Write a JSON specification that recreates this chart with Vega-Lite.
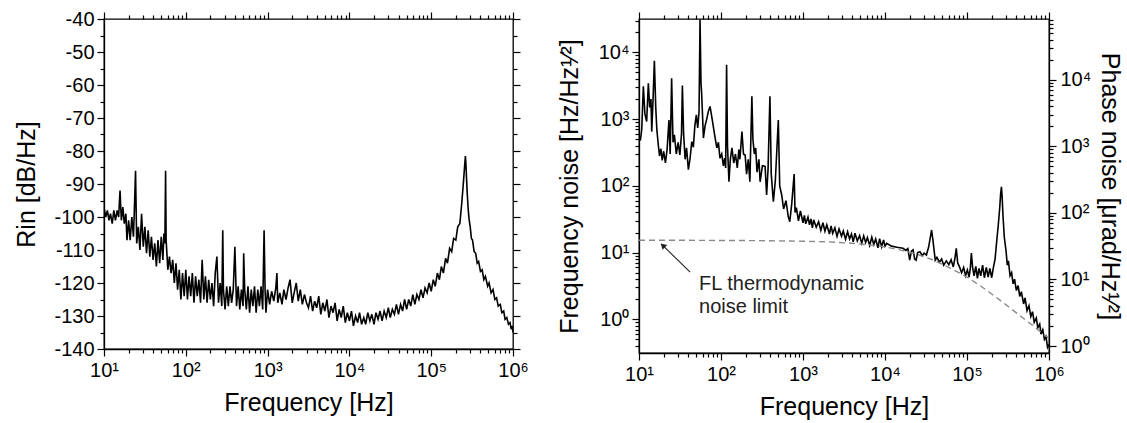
{
  "$schema": "https://vega.github.io/schema/vega-lite/v6.json",
  "padding": {"left": 14, "top": 8, "right": 4, "bottom": 4},
  "config": {
    "font": "Liberation Sans",
    "view": {"stroke": "black", "strokeWidth": 1.3},
    "axis": {"grid": false, "domainColor": "black", "tickColor": "black", "labelColor": "black", "titleColor": "black", "labelFontSize": 20, "titleFontSize": 25, "titleFontWeight": "normal", "tickWidth": 1.2, "domainWidth": 1.3, "labelFont": "Liberation Sans", "titleFont": "Liberation Sans", "labelFlush": false, "labelOverlap": false, "labelBound": false},
    "concat": {"spacing": 27}
  },
  "datasets": {
    "rin": [
      {"f":10,"db":-97},{"f":10.5,"db":-100},{"f":11,"db":-98},{"f":11.5,"db":-101},{"f":12,"db":-99},{"f":12.6,"db":-102},{"f":13.2,"db":-98},{"f":13.8,"db":-101},{"f":14.5,"db":-98},{"f":15.1,"db":-100},{"f":15.7,"db":-92},{"f":16.3,"db":-101},{"f":17,"db":-97},{"f":17.7,"db":-102},{"f":18.5,"db":-99},{"f":19.1,"db":-107},{"f":20,"db":-101},{"f":20.9,"db":-107},{"f":21.9,"db":-100},{"f":22.9,"db":-106},{"f":23.5,"db":-98},{"f":24.3,"db":-86},{"f":25.1,"db":-108},{"f":26.3,"db":-103},{"f":27.5,"db":-110},{"f":28.8,"db":-99},{"f":30.2,"db":-109},{"f":31.6,"db":-103},{"f":33.1,"db":-111},{"f":34.7,"db":-104},{"f":36.3,"db":-112},{"f":38,"db":-106},{"f":39.8,"db":-113},{"f":41.7,"db":-108},{"f":43.7,"db":-115},{"f":45.7,"db":-107},{"f":47.9,"db":-114},{"f":50.1,"db":-106},{"f":52.5,"db":-113},{"f":54,"db":-105},{"f":55.5,"db":-108},{"f":56.6,"db":-86},{"f":57.5,"db":-107},{"f":60.3,"db":-116},{"f":63.1,"db":-112},{"f":66.1,"db":-117},{"f":69.2,"db":-113},{"f":72.4,"db":-120},{"f":75.9,"db":-114},{"f":79.4,"db":-122},{"f":83.2,"db":-116},{"f":87.1,"db":-125},{"f":91.2,"db":-117},{"f":95.5,"db":-124},{"f":100,"db":-116},{"f":104.7,"db":-125},{"f":109.6,"db":-118},{"f":114.8,"db":-124},{"f":120.2,"db":-117},{"f":125.9,"db":-126},{"f":131.8,"db":-118},{"f":138,"db":-124},{"f":144.5,"db":-119},{"f":151.4,"db":-126},{"f":158.5,"db":-113},{"f":166,"db":-125},{"f":173.8,"db":-118},{"f":182,"db":-126},{"f":190.5,"db":-119},{"f":199.5,"db":-125},{"f":208.9,"db":-120},{"f":218.8,"db":-127},{"f":229.1,"db":-117},{"f":239.9,"db":-112},{"f":251.2,"db":-126},{"f":263,"db":-120},{"f":275.4,"db":-127},{"f":283,"db":-104},{"f":288.4,"db":-122},{"f":302,"db":-128},{"f":316.2,"db":-121},{"f":331.1,"db":-127},{"f":346.7,"db":-121},{"f":363.1,"db":-126},{"f":380.2,"db":-122},{"f":398.1,"db":-109},{"f":416.9,"db":-127},{"f":436.5,"db":-121},{"f":457.1,"db":-128},{"f":478.6,"db":-122},{"f":501.2,"db":-127},{"f":510,"db":-111},{"f":524.8,"db":-122},{"f":549.5,"db":-128},{"f":575.4,"db":-121},{"f":602.6,"db":-129},{"f":631,"db":-122},{"f":660.7,"db":-127},{"f":691.8,"db":-121},{"f":724.4,"db":-129},{"f":758.6,"db":-122},{"f":794.3,"db":-127},{"f":831.8,"db":-121},{"f":871,"db":-128},{"f":906,"db":-104},{"f":931,"db":-122},{"f":955,"db":-129},{"f":1000,"db":-122},
      {"f":1060,"db":-126.5},{"f":1120,"db":-122.5},{"f":1190,"db":-125.5},{"f":1260,"db":-121.5},{"f":1300,"db":-117},{"f":1330,"db":-126},{"f":1410,"db":-123},{"f":1500,"db":-126.5},{"f":1580,"db":-122},{"f":1680,"db":-125},{"f":1780,"db":-121.5},{"f":1880,"db":-119},{"f":2000,"db":-126},{"f":2110,"db":-123},{"f":2240,"db":-120},{"f":2370,"db":-125.5},{"f":2510,"db":-122},{"f":2660,"db":-126.5},{"f":2820,"db":-123.5},{"f":2990,"db":-126},{"f":3160,"db":-127.5},{"f":3350,"db":-124},{"f":3550,"db":-128.5},{"f":3760,"db":-125.5},{"f":3980,"db":-127.5},{"f":4220,"db":-124},{"f":4470,"db":-129.5},{"f":4730,"db":-126},{"f":5010,"db":-128.5},{"f":5310,"db":-125},{"f":5620,"db":-130.5},{"f":5960,"db":-127},{"f":6310,"db":-129},{"f":6680,"db":-126},{"f":7080,"db":-131.5},{"f":7500,"db":-128},{"f":7940,"db":-130.5},{"f":8410,"db":-127},{"f":8910,"db":-132},{"f":9440,"db":-129},{"f":10000,"db":-131.5},
      {"f":10600,"db":-128.5},{"f":11200,"db":-133},{"f":11900,"db":-130},{"f":12600,"db":-132},{"f":13300,"db":-129},{"f":14100,"db":-132.5},{"f":15000,"db":-130.5},{"f":15800,"db":-132.5},{"f":16800,"db":-129},{"f":17800,"db":-131.5},{"f":18800,"db":-129.5},{"f":20000,"db":-132.5},{"f":21100,"db":-129},{"f":22400,"db":-131},{"f":23700,"db":-128.5},{"f":25100,"db":-131.5},{"f":26600,"db":-128.5},{"f":28200,"db":-130.5},{"f":29900,"db":-127.5},{"f":31600,"db":-130.5},{"f":33500,"db":-128},{"f":35500,"db":-129.5},{"f":37600,"db":-126.5},{"f":39800,"db":-129.5},{"f":42200,"db":-126.5},{"f":44700,"db":-128.5},{"f":47300,"db":-125},{"f":50100,"db":-128},{"f":53100,"db":-125},{"f":56200,"db":-127},{"f":59600,"db":-123.5},{"f":63100,"db":-126.5},{"f":66800,"db":-123.5},{"f":70800,"db":-125},{"f":75000,"db":-122},{"f":79400,"db":-124.5},{"f":84100,"db":-121.5},{"f":89100,"db":-123},{"f":94400,"db":-120},{"f":100000,"db":-122.5},{"f":106000,"db":-119},{"f":112000,"db":-121},{"f":119000,"db":-117},{"f":126000,"db":-119},{"f":133000,"db":-115},{"f":141000,"db":-117},{"f":150000,"db":-112.5},{"f":158000,"db":-114},{"f":168000,"db":-109.5},{"f":178000,"db":-110.5},{"f":188000,"db":-106.5},{"f":200000,"db":-107},{"f":211000,"db":-103},{"f":224000,"db":-102},{"f":236000,"db":-96},{"f":245000,"db":-91},{"f":252000,"db":-87},{"f":258000,"db":-83.5},{"f":262000,"db":-81.5},{"f":266000,"db":-84},{"f":270000,"db":-88},{"f":276000,"db":-93},{"f":283000,"db":-97.5},{"f":290000,"db":-100.5},{"f":300000,"db":-103},{"f":310000,"db":-106.5},{"f":320000,"db":-107},{"f":335000,"db":-110.5},{"f":350000,"db":-111},{"f":365000,"db":-114},{"f":380000,"db":-113.5},{"f":400000,"db":-116.5},{"f":420000,"db":-116},{"f":440000,"db":-119},{"f":460000,"db":-118},{"f":490000,"db":-121},{"f":510000,"db":-120},{"f":540000,"db":-123},{"f":570000,"db":-122},{"f":600000,"db":-125},{"f":630000,"db":-124.5},{"f":660000,"db":-127},{"f":700000,"db":-126.5},{"f":730000,"db":-129},{"f":770000,"db":-128.5},{"f":800000,"db":-131},{"f":840000,"db":-130.5},{"f":880000,"db":-132.5},{"f":920000,"db":-132},{"f":950000,"db":-134},{"f":980000,"db":-133},{"f":1000000,"db":-135}
    ],
    "fn": [
      {"f":10,"v":550},{"f":10.4,"v":480},{"f":10.8,"v":700},{"f":11.3,"v":3100},{"f":11.8,"v":1200},{"f":12.4,"v":920},{"f":13,"v":3450},{"f":13.5,"v":1500},{"f":14,"v":2000},{"f":14.3,"v":650},{"f":14.8,"v":1800},{"f":15.4,"v":7500},{"f":16,"v":1500},{"f":16.5,"v":700},{"f":17.2,"v":410},{"f":17.8,"v":280},{"f":18.5,"v":360},{"f":19.2,"v":240},{"f":20,"v":330},{"f":21,"v":220},{"f":22,"v":350},{"f":23.2,"v":970},{"f":24,"v":300},{"f":25,"v":4100},{"f":26,"v":450},{"f":27,"v":580},{"f":28.5,"v":300},{"f":30,"v":450},{"f":31.5,"v":290},{"f":33,"v":600},{"f":33.8,"v":3200},{"f":35,"v":600},{"f":36.5,"v":250},{"f":38,"v":370},{"f":40,"v":175},{"f":42,"v":260},{"f":44,"v":460},{"f":46,"v":380},{"f":48,"v":800},{"f":50,"v":1160},{"f":52,"v":740},{"f":54,"v":1300},{"f":55.5,"v":31000},{"f":57,"v":3500},{"f":58,"v":2500},{"f":60,"v":900},{"f":61,"v":520},{"f":64,"v":800},{"f":67,"v":1000},{"f":70,"v":1300},{"f":73.5,"v":1550},{"f":77,"v":1100},{"f":80,"v":820},{"f":84,"v":560},{"f":89,"v":370},{"f":93,"v":450},{"f":97,"v":260},{"f":102,"v":300},{"f":107,"v":200},{"f":111,"v":260},{"f":114,"v":185},{"f":117,"v":6500},{"f":120,"v":400},{"f":125,"v":115},{"f":130,"v":250},{"f":136,"v":370},{"f":143,"v":220},{"f":150,"v":300},{"f":158,"v":185},{"f":165,"v":350},{"f":170,"v":250},{"f":180,"v":650},{"f":188,"v":300},{"f":197,"v":290},{"f":205,"v":150},{"f":215,"v":250},{"f":225,"v":115},{"f":232,"v":600},{"f":238,"v":2200},{"f":245,"v":500},{"f":255,"v":300},{"f":265,"v":370},{"f":275,"v":160},{"f":290,"v":250},{"f":300,"v":115},{"f":320,"v":200},{"f":345,"v":195},{"f":360,"v":73},{"f":375,"v":180},{"f":395,"v":2200},{"f":410,"v":150},{"f":435,"v":58},{"f":460,"v":120},{"f":500,"v":970},{"f":520,"v":100},{"f":550,"v":73},{"f":580,"v":45},{"f":620,"v":60},{"f":660,"v":35},{"f":690,"v":29},{"f":730,"v":55},{"f":780,"v":150},{"f":800,"v":40},{"f":830,"v":47},{"f":880,"v":30},{"f":930,"v":42},{"f":1000,"v":28},{"f":1040,"v":36},{"f":1080,"v":27},{"f":1150,"v":34},{"f":1200,"v":26},{"f":1250,"v":32},{"f":1300,"v":23.5},{"f":1350,"v":31},{"f":1450,"v":24},{"f":1550,"v":29},{"f":1650,"v":21.5},{"f":1750,"v":28},{"f":1850,"v":21},{"f":1950,"v":26},{"f":2100,"v":19},{"f":2200,"v":25},{"f":2300,"v":19.5},{"f":2450,"v":23.5},{"f":2600,"v":17.5},{"f":2750,"v":22.5},{"f":2950,"v":17.5},{"f":3100,"v":21},{"f":3300,"v":15.8},{"f":3500,"v":20.5},{"f":3700,"v":16},{"f":3900,"v":19},{"f":4100,"v":14.5},{"f":4300,"v":19.5},{"f":4600,"v":15},{"f":4900,"v":18},{"f":5200,"v":13.8},{"f":5500,"v":17.8},{"f":5800,"v":14.2},{"f":6100,"v":16.8},{"f":6500,"v":12.8},{"f":6900,"v":17},{"f":7300,"v":13.2},{"f":7700,"v":16},{"f":8200,"v":11.8},{"f":8600,"v":16.2},{"f":9100,"v":12.2},{"f":9600,"v":15.5},{"f":10000,"v":12.5},{"f":10500,"v":13.8},{"f":12000,"v":12.5},{"f":14000,"v":12},{"f":16600,"v":11.6},{"f":18000,"v":10.8},{"f":19000,"v":11.5},{"f":20000,"v":7.7},{"f":21000,"v":10.5},{"f":22000,"v":11},{"f":23000,"v":8},{"f":24000,"v":7.7},{"f":25000,"v":10},{"f":26700,"v":10.3},{"f":28500,"v":9},{"f":30000,"v":9.8},{"f":32000,"v":9.2},{"f":34000,"v":12},{"f":36000,"v":18},{"f":37000,"v":21.8},{"f":38500,"v":15},{"f":41000,"v":7.7},{"f":43000,"v":8.5},{"f":46000,"v":7.2},{"f":49000,"v":8},{"f":52000,"v":6.5},{"f":56000,"v":7.5},{"f":60000,"v":6.6},{"f":64000,"v":7.8},{"f":68000,"v":6.1},{"f":71000,"v":8},{"f":74000,"v":11.6},{"f":77000,"v":7},{"f":81000,"v":6.1},{"f":86000,"v":5},{"f":91000,"v":6},{"f":96000,"v":4.5},{"f":101000,"v":5.5},{"f":106000,"v":4.3},{"f":110000,"v":6},{"f":113000,"v":9.8},{"f":117000,"v":6},{"f":122000,"v":4.5},{"f":128000,"v":6.2},{"f":134000,"v":4.1},{"f":140000,"v":5.8},{"f":147000,"v":4.5},{"f":155000,"v":6.5},{"f":163000,"v":4.2},{"f":172000,"v":6},{"f":181000,"v":4.3},{"f":190000,"v":5.8},{"f":200000,"v":4.2},{"f":210000,"v":6},{"f":220000,"v":8},{"f":228000,"v":13},{"f":240000,"v":25},{"f":250000,"v":45},{"f":257000,"v":75},{"f":263000,"v":97},{"f":268000,"v":70},{"f":275000,"v":35},{"f":285000,"v":17},{"f":300000,"v":10.3},{"f":310000,"v":6.5},{"f":320000,"v":7.5},{"f":335000,"v":4.5},{"f":350000,"v":5},{"f":365000,"v":3.4},{"f":380000,"v":4},{"f":400000,"v":2.7},{"f":420000,"v":3.2},{"f":440000,"v":2.2},{"f":460000,"v":2.6},{"f":490000,"v":1.7},{"f":510000,"v":2.1},{"f":540000,"v":1.35},{"f":570000,"v":1.6},{"f":600000,"v":1.1},{"f":630000,"v":1.3},{"f":660000,"v":0.9},{"f":700000,"v":1.05},{"f":730000,"v":0.75},{"f":770000,"v":0.85},{"f":800000,"v":0.6},{"f":840000,"v":0.7},{"f":880000,"v":0.5},{"f":920000,"v":0.55},{"f":960000,"v":0.38},{"f":1000000,"v":0.42}
    ],
    "limit": [
      {"f":10,"v":15.3},{"f":30,"v":15.3},{"f":100,"v":15.2},{"f":300,"v":15.1},{"f":1000,"v":14.8},{"f":2000,"v":14.5},{"f":4000,"v":13.8},{"f":7000,"v":12.9},{"f":10000,"v":12.2},{"f":16000,"v":10.8},{"f":25000,"v":9.4},{"f":40000,"v":7.6},{"f":60000,"v":6.0},{"f":100000,"v":4.3},{"f":150000,"v":3.1},{"f":200000,"v":2.4},{"f":300000,"v":1.65},{"f":400000,"v":1.25},{"f":600000,"v":0.85},{"f":800000,"v":0.64},{"f":1000000,"v":0.52}
    ],
    "phasedom": [{"f":10,"p":0.785},{"f":1000000,"p":81800}],
    "note": [{"f":54,"v":2.75,"t":"FL thermodynamic"},{"f":54,"v":1.24,"t":"noise limit"}],
    "arrow": [{"f":42,"v":5.1,"f2":19.5,"v2":12.8}]
  },
  "hconcat": [
    {
      "width": 409,
      "height": 330,
      "data": {"name": "rin"},
      "layer": [
        {
          "mark": {"type": "line", "color": "black", "strokeWidth": 1.6, "clip": true},
          "encoding": {
            "x": {"field": "f", "type": "quantitative", "scale": {"type": "log", "domain": [10, 1000000]},
                  "axis": {"orient": "bottom", "values": [10, 100, 1000, 10000, 100000, 1000000], "labelExpr": "'10' + ['⁰','¹','²','³','⁴','⁵','⁶'][round(log(datum.value)/LN10)]", "tickSize": 7, "labelPadding": 4, "title": "Frequency [Hz]", "titlePadding": 10}},
            "y": {"field": "db", "type": "quantitative", "scale": {"domain": [-140, -40], "nice": false, "zero": false},
                  "axis": {"orient": "left", "values": [-140, -130, -120, -110, -100, -90, -80, -70, -60, -50, -40], "labelExpr": "toString(datum.value)", "tickSize": 7, "labelPadding": 3, "title": "Rin [dB/Hz]", "titlePadding": 14}}
          }
        },
        {
          "mark": {"type": "line", "opacity": 0},
          "encoding": {
            "x": {"field": "f", "type": "quantitative", "scale": {"type": "log", "domain": [10, 1000000]},
                  "axis": {"orient": "bottom", "values": [20,30,40,50,60,70,80,90,200,300,400,500,600,700,800,900,2000,3000,4000,5000,6000,7000,8000,9000,20000,30000,40000,50000,60000,70000,80000,90000,200000,300000,400000,500000,600000,700000,800000,900000], "labels": false, "tickSize": 4, "domain": false, "title": null}},
            "y": {"field": "db", "type": "quantitative", "scale": {"domain": [-140, -40], "nice": false, "zero": false},
                  "axis": {"orient": "left", "values": [-135, -125, -115, -105, -95, -85, -75, -65, -55, -45], "labels": false, "tickSize": 4, "domain": false, "title": null}}
          }
        },
        {
          "mark": {"type": "line", "opacity": 0},
          "encoding": {
            "x": {"field": "f", "type": "quantitative", "scale": {"type": "log", "domain": [10, 1000000]},
                  "axis": {"orient": "top", "values": [10, 100, 1000, 10000, 100000, 1000000], "labels": false, "tickSize": 7, "domain": false, "title": null}},
            "y": {"field": "db", "type": "quantitative", "scale": {"domain": [-140, -40], "nice": false, "zero": false},
                  "axis": {"orient": "right", "values": [-140, -130, -120, -110, -100, -90, -80, -70, -60, -50, -40], "labels": false, "tickSize": 7, "domain": false, "title": null}}
          }
        },
        {
          "mark": {"type": "line", "opacity": 0},
          "encoding": {
            "x": {"field": "f", "type": "quantitative", "scale": {"type": "log", "domain": [10, 1000000]},
                  "axis": {"orient": "top", "values": [20,30,40,50,60,70,80,90,200,300,400,500,600,700,800,900,2000,3000,4000,5000,6000,7000,8000,9000,20000,30000,40000,50000,60000,70000,80000,90000,200000,300000,400000,500000,600000,700000,800000,900000], "labels": false, "tickSize": 4, "domain": false, "title": null}},
            "y": {"field": "db", "type": "quantitative", "scale": {"domain": [-140, -40], "nice": false, "zero": false},
                  "axis": {"orient": "right", "values": [-135, -125, -115, -105, -95, -85, -75, -65, -55, -45], "labels": false, "tickSize": 4, "domain": false, "title": null}}
          }
        }
      ],
      "resolve": {"axis": {"x": "independent", "y": "independent"}}
    },
    {
      "width": 410,
      "height": 334,
      "data": {"name": "fn"},
      "layer": [
        {
          "mark": {"type": "line", "color": "black", "strokeWidth": 1.6, "clip": true},
          "encoding": {
            "x": {"field": "f", "type": "quantitative", "scale": {"type": "log", "domain": [10, 1000000]},
                  "axis": {"orient": "bottom", "values": [10, 100, 1000, 10000, 100000, 1000000], "labelExpr": "'10' + ['⁰','¹','²','³','⁴','⁵','⁶'][round(log(datum.value)/LN10)]", "tickSize": 7, "labelPadding": 4, "title": "Frequency [Hz]", "titlePadding": 10}},
            "y": {"field": "v", "type": "quantitative", "scale": {"type": "log", "domain": [0.313, 31623]},
                  "axis": {"orient": "left", "values": [1, 10, 100, 1000, 10000], "labelExpr": "'10' + ['⁰','¹','²','³','⁴','⁵','⁶'][round(log(datum.value)/LN10)]", "tickSize": 7, "labelPadding": 3, "title": "Frequency noise [Hz/Hz¹⁄²]", "titlePadding": 16}}
          }
        },
        {
          "mark": {"type": "line", "opacity": 0},
          "encoding": {
            "x": {"field": "f", "type": "quantitative", "scale": {"type": "log", "domain": [10, 1000000]},
                  "axis": {"orient": "bottom", "values": [20,30,40,50,60,70,80,90,200,300,400,500,600,700,800,900,2000,3000,4000,5000,6000,7000,8000,9000,20000,30000,40000,50000,60000,70000,80000,90000,200000,300000,400000,500000,600000,700000,800000,900000], "labels": false, "tickSize": 4, "domain": false, "title": null}},
            "y": {"field": "v", "type": "quantitative", "scale": {"type": "log", "domain": [0.313, 31623]},
                  "axis": {"orient": "left", "values": [0.4,0.5,0.6,0.7,0.8,0.9,2,3,4,5,6,7,8,9,20,30,40,50,60,70,80,90,200,300,400,500,600,700,800,900,2000,3000,4000,5000,6000,7000,8000,9000,20000,30000], "labels": false, "tickSize": 4, "domain": false, "title": null}}
          }
        },
        {
          "mark": {"type": "line", "opacity": 0},
          "encoding": {
            "x": {"field": "f", "type": "quantitative", "scale": {"type": "log", "domain": [10, 1000000]},
                  "axis": {"orient": "top", "values": [10, 100, 1000, 10000, 100000, 1000000], "labels": false, "tickSize": 7, "domain": false, "title": null}},
            "y": {"field": "v", "type": "quantitative", "scale": {"type": "log", "domain": [0.313, 31623]}, "axis": null}
          }
        },
        {
          "mark": {"type": "line", "opacity": 0},
          "encoding": {
            "x": {"field": "f", "type": "quantitative", "scale": {"type": "log", "domain": [10, 1000000]},
                  "axis": {"orient": "top", "values": [20,30,40,50,60,70,80,90,200,300,400,500,600,700,800,900,2000,3000,4000,5000,6000,7000,8000,9000,20000,30000,40000,50000,60000,70000,80000,90000,200000,300000,400000,500000,600000,700000,800000,900000], "labels": false, "tickSize": 4, "domain": false, "title": null}},
            "y": {"field": "v", "type": "quantitative", "scale": {"type": "log", "domain": [0.313, 31623]}, "axis": null}
          }
        },
        {
          "data": {"name": "limit"},
          "mark": {"type": "line", "color": "#8a8a8a", "strokeWidth": 1.4, "strokeDash": [6, 4], "clip": true},
          "encoding": {
            "x": {"field": "f", "type": "quantitative", "scale": {"type": "log", "domain": [10, 1000000]}, "axis": null},
            "y": {"field": "v", "type": "quantitative", "scale": {"type": "log", "domain": [0.313, 31623]}, "axis": null}
          }
        },
        {
          "data": {"name": "phasedom"},
          "mark": {"type": "point", "opacity": 0},
          "encoding": {
            "x": {"field": "f", "type": "quantitative", "scale": {"type": "log", "domain": [10, 1000000]}, "axis": null},
            "y": {"field": "p", "type": "quantitative", "scale": {"type": "log", "domain": [0.785, 81800]},
                  "axis": {"orient": "right", "values": [1, 10, 100, 1000, 10000], "labelExpr": "'10' + ['⁰','¹','²','³','⁴','⁵','⁶'][round(log(datum.value)/LN10)]", "tickSize": 7, "labelPadding": 4, "title": "Phase noise [μrad/Hz¹⁄²]", "titlePadding": 6}}
          }
        },
        {
          "data": {"name": "phasedom"},
          "mark": {"type": "point", "opacity": 0},
          "encoding": {
            "x": {"field": "f", "type": "quantitative", "scale": {"type": "log", "domain": [10, 1000000]}, "axis": null},
            "y": {"field": "p", "type": "quantitative", "scale": {"type": "log", "domain": [0.785, 81800]},
                  "axis": {"orient": "right", "values": [2,3,4,5,6,7,8,9,20,30,40,50,60,70,80,90,200,300,400,500,600,700,800,900,2000,3000,4000,5000,6000,7000,8000,9000,20000,30000,40000,50000,60000,70000,80000], "labels": false, "tickSize": 4, "domain": false, "title": null}}
          }
        },
        {
          "data": {"name": "note"},
          "mark": {"type": "text", "align": "left", "baseline": "alphabetic", "fontSize": 20, "color": "#222222"},
          "encoding": {
            "x": {"field": "f", "type": "quantitative", "scale": {"type": "log", "domain": [10, 1000000]}, "axis": null},
            "y": {"field": "v", "type": "quantitative", "scale": {"type": "log", "domain": [0.313, 31623]}, "axis": null},
            "text": {"field": "t"}
          }
        },
        {
          "data": {"name": "arrow"},
          "mark": {"type": "rule", "color": "#222222", "strokeWidth": 1.1},
          "encoding": {
            "x": {"field": "f", "type": "quantitative", "scale": {"type": "log", "domain": [10, 1000000]}, "axis": null},
            "y": {"field": "v", "type": "quantitative", "scale": {"type": "log", "domain": [0.313, 31623]}, "axis": null},
            "x2": {"field": "f2"},
            "y2": {"field": "v2"}
          }
        },
        {
          "data": {"name": "arrow"},
          "mark": {"type": "point", "shape": "triangle-up", "filled": true, "size": 45, "angle": -46, "color": "#222222", "opacity": 1},
          "encoding": {
            "x": {"field": "f2", "type": "quantitative", "scale": {"type": "log", "domain": [10, 1000000]}, "axis": null},
            "y": {"field": "v2", "type": "quantitative", "scale": {"type": "log", "domain": [0.313, 31623]}, "axis": null}
          }
        }
      ],
      "resolve": {"scale": {"y": "independent"}, "axis": {"x": "independent", "y": "independent"}}
    }
  ]
}
